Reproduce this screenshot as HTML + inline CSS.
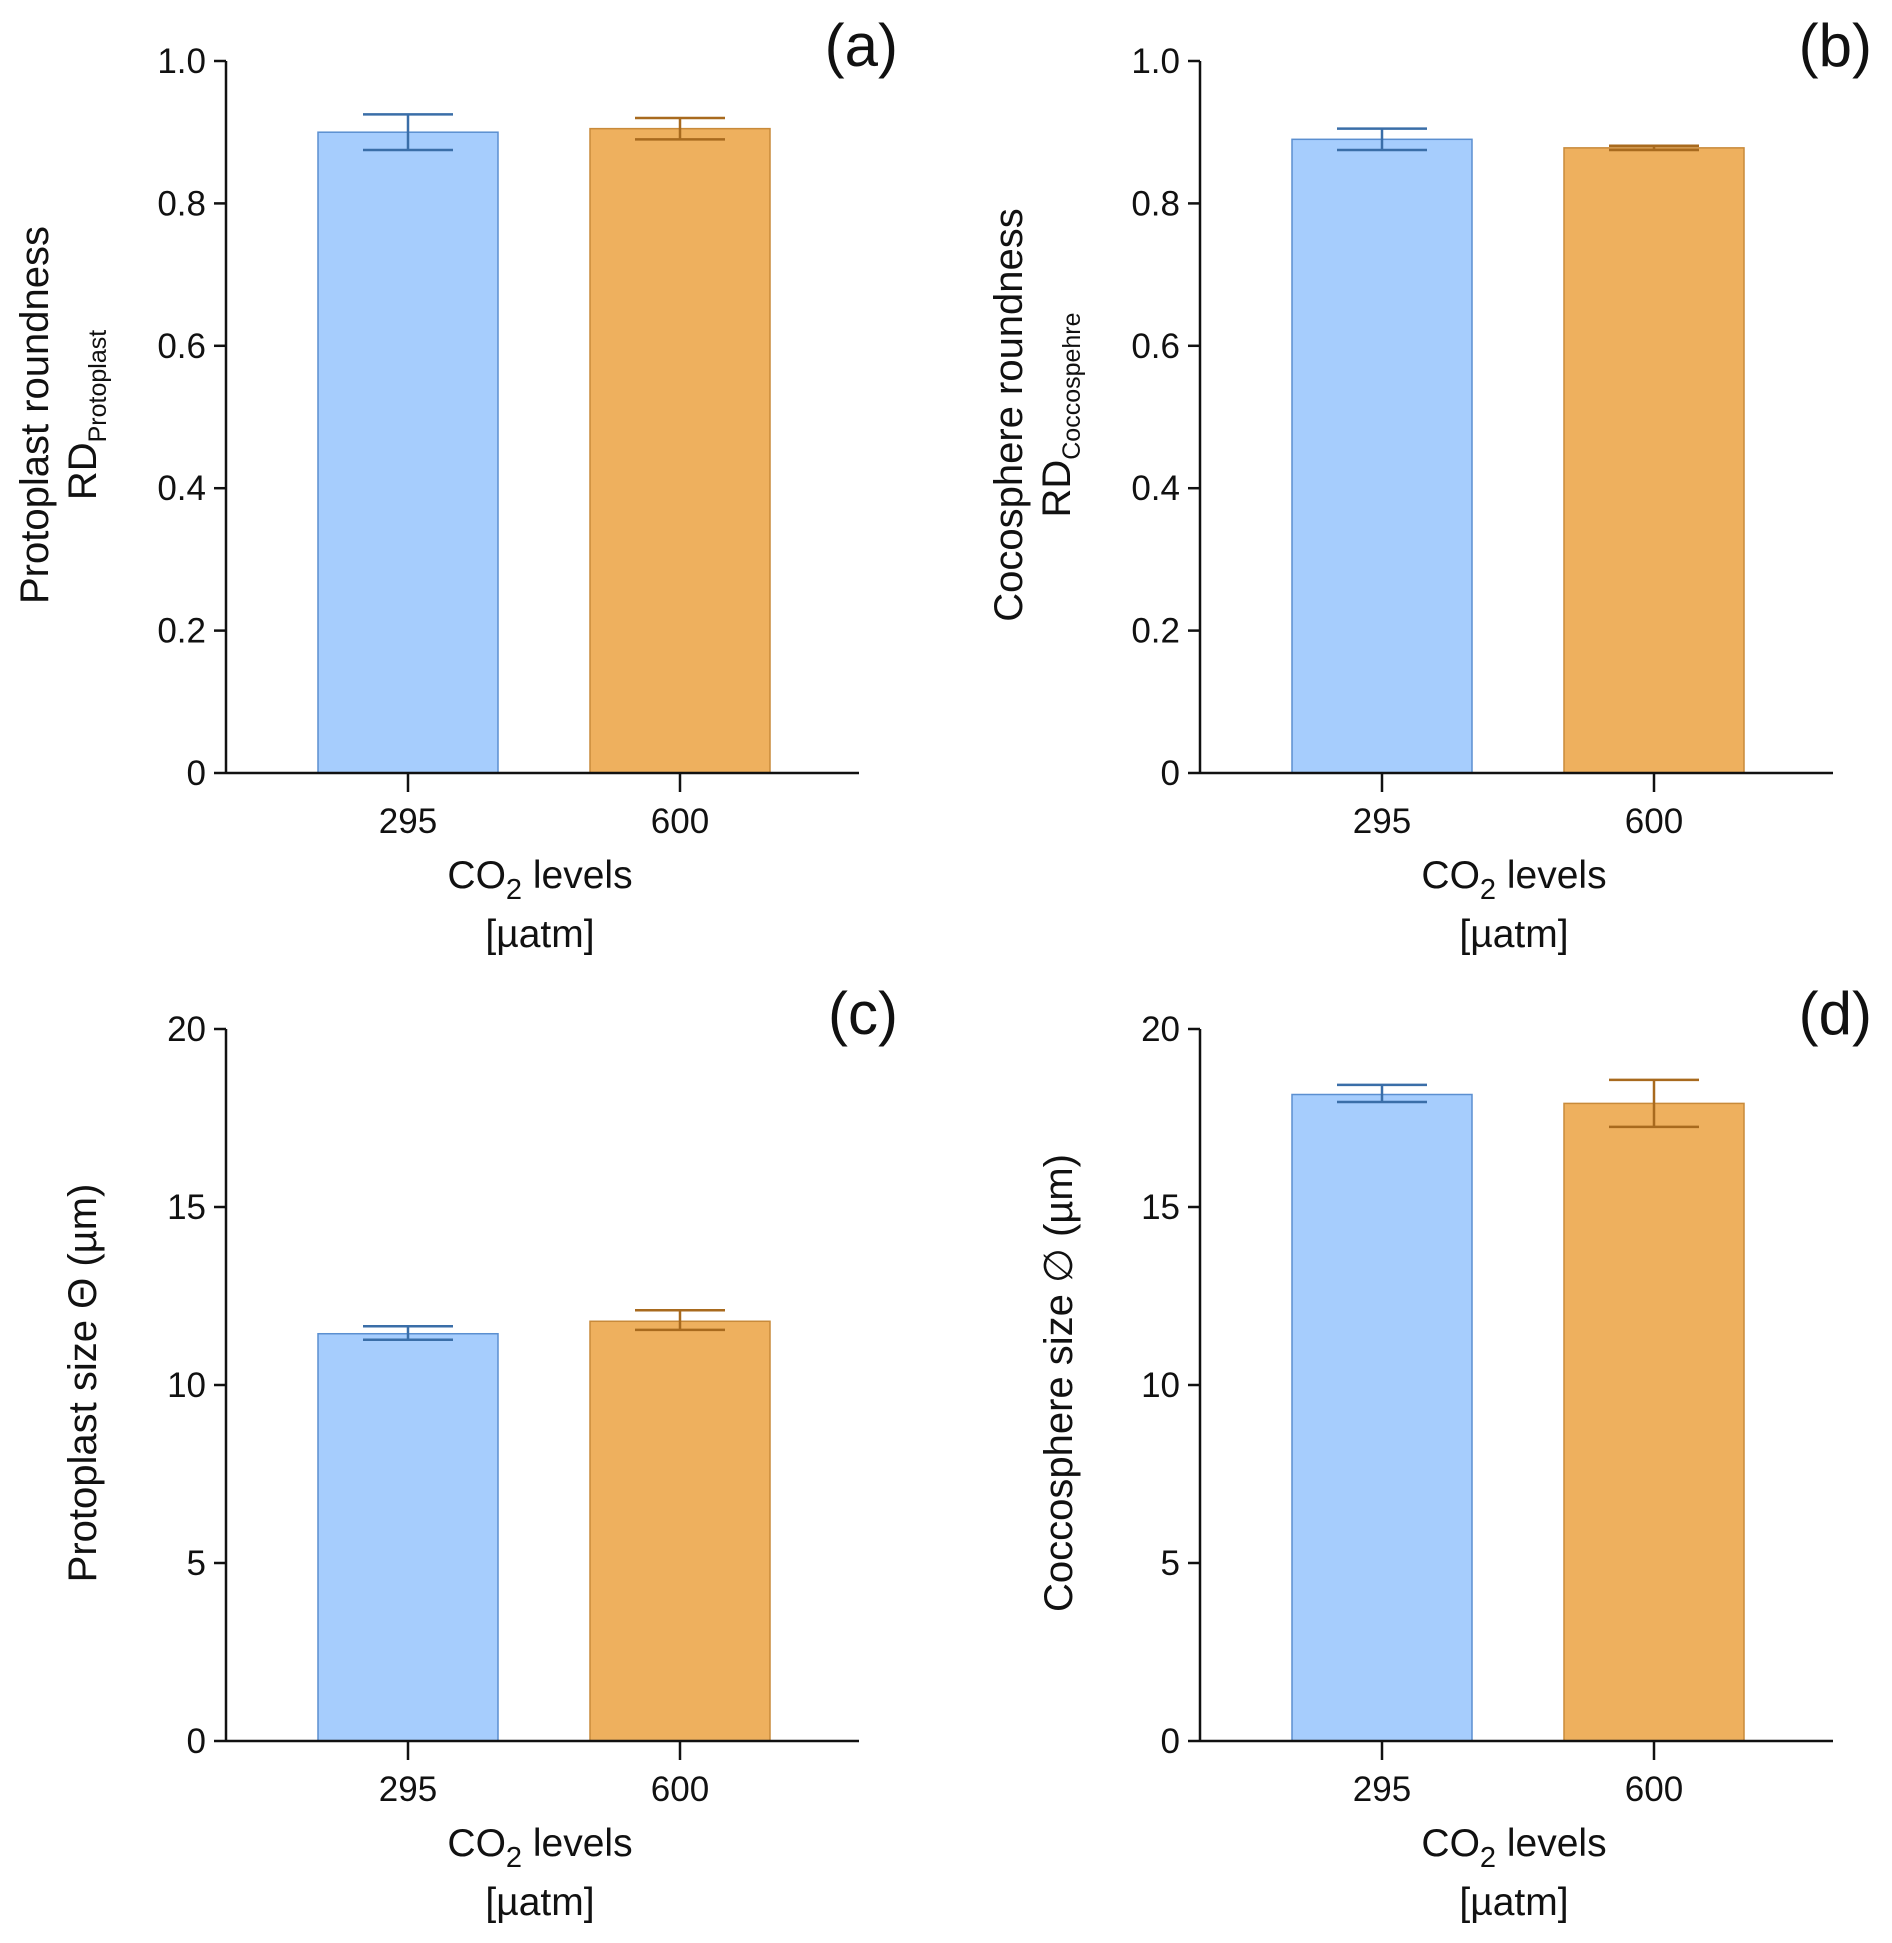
<!DOCTYPE html>
<html><head><meta charset="utf-8"><style>
html,body{margin:0;padding:0;background:#fff;}
svg{display:block;font-family:"Liberation Sans",Arial,sans-serif;}
</style></head><body>
<svg id="chart" width="1892" height="1943" viewBox="0 0 1892 1943" xmlns="http://www.w3.org/2000/svg"></svg>
<script>
const categories = ["295", "600"];
const panelLetters = ["(a)", "(b)", "(c)", "(d)"];
const meansA = [0.900, 0.905];
const lowA = [0.875, 0.890];
const highA = [0.925, 0.920];
const meansB = [0.890, 0.878];
const lowB = [0.875, 0.875];
const highB = [0.905, 0.881];
const meansC = [11.44, 11.79];
const lowC = [11.27, 11.55];
const highC = [11.65, 12.10];
const meansD = [18.16, 17.91];
const lowD = [17.95, 17.25];
const highD = [18.43, 18.57];
const ticksRound = ["0", "0.2", "0.4", "0.6", "0.8", "1.0"];
const ticksSize = ["0", "5", "10", "15", "20"];

const NS = "http://www.w3.org/2000/svg";
const svg = document.getElementById("chart");
function mk(tag, attrs, parent) {
  const e = document.createElementNS(NS, tag);
  for (const k in attrs) e.setAttribute(k, attrs[k]);
  (parent || svg).appendChild(e);
  return e;
}
const fills = ["#a6cdfd", "#eeb05e"];
const strokes = ["#5b8fd0", "#c88a3a"];
const errCol = ["#3a6ea8", "#a86a1e"];

function panel(ox, oy, idx, means, lows, highs, ticks, ymax, ylab1, ylab2, ylab2sub, ylabX1, ylabX2) {
  const g = mk("g", {});
  
  
  const x0 = ox + 226, x1 = ox + 859, y0 = oy + 773, yTop = oy + 61;
  const ys = v => y0 - (v / ymax) * (y0 - yTop);
  const xc = [ox + 408, ox + 680];
  const bw = 180;
  means.forEach((m, i) => {
    const r = mk("rect", {x: xc[i] - bw / 2, y: ys(m), width: bw, height: y0 - ys(m), fill: fills[i], stroke: strokes[i], "stroke-width": 1.5}, g);
    
    
    const eg = mk("g", {stroke: errCol[i], "stroke-width": 2.5, fill: "none"}, g);
    
    
    mk("line", {x1: xc[i], x2: xc[i], y1: ys(lows[i]), y2: ys(highs[i])}, eg);
    mk("line", {x1: xc[i] - 45, x2: xc[i] + 45, y1: ys(lows[i]), y2: ys(lows[i])}, eg);
    mk("line", {x1: xc[i] - 45, x2: xc[i] + 45, y1: ys(highs[i]), y2: ys(highs[i])}, eg);
  });
  const ax = mk("g", {stroke: "#111", "stroke-width": 2.5}, g);
  
  
  mk("line", {x1: x0, x2: x0, y1: yTop, y2: y0}, ax);
  mk("line", {x1: x0, x2: x1, y1: y0, y2: y0}, ax);
  ticks.forEach(t => {
    const y = ys(parseFloat(t));
    mk("line", {x1: x0 - 12, x2: x0, y1: y, y2: y}, ax);
    const tx = mk("text", {x: x0 - 20, y: y + 12, "text-anchor": "end", "font-size": 35, fill: "#111"}, g);
    tx.textContent = t;
    
    
  });
  categories.forEach((c, i) => {
    mk("line", {x1: xc[i], x2: xc[i], y1: y0, y2: y0 + 19}, ax);
    const tx = mk("text", {x: xc[i], y: y0 + 60, "text-anchor": "middle", "font-size": 35, fill: "#111"}, g);
    tx.textContent = c;
    
    
  });
  const xt = mk("text", {x: ox + 540, y: oy + 888, "text-anchor": "middle", "font-size": 39, fill: "#111"}, g);
  xt.innerHTML = 'CO<tspan font-size="29" dy="11">2</tspan><tspan dy="-11"> levels</tspan>';
  
  
  const xu = mk("text", {x: ox + 540, y: oy + 947, "text-anchor": "middle", "font-size": 39, fill: "#111"}, g);
  xu.textContent = "[µatm]";
  
  
  const cy = oy + 415;
  const yt = mk("text", {x: ylabX1, y: cy, "text-anchor": "middle", "font-size": 40, fill: "#111", transform: `rotate(-90 ${ylabX1} ${cy})`}, g);
  yt.textContent = ylab1;
  
  
  if (ylab2) {
    const y2 = mk("text", {x: ylabX2, y: cy, "text-anchor": "middle", "font-size": 40, fill: "#111", transform: `rotate(-90 ${ylabX2} ${cy})`}, g);
    y2.innerHTML = ylab2 + '<tspan font-size="25" dy="10">' + ylab2sub + '</tspan>';
    
    
  }
  const pl = mk("text", {x: ox + 898, y: oy + 66, "text-anchor": "end", "font-size": 60, fill: "#111"}, g);
  pl.textContent = panelLetters[idx];
  
  
}
panel(0, 0, 0, meansA, lowA, highA, ticksRound, 1.0, "Protoplast roundness", "RD", "Protoplast", 48, 96);
panel(974, 0, 1, meansB, lowB, highB, ticksRound, 1.0, "Cocosphere roundness", "RD", "Coccospehre", 1022, 1070);
panel(0, 968, 2, meansC, lowC, highC, ticksSize, 20, "Protoplast size Θ (µm)", null, null, 96, 0);
panel(974, 968, 3, meansD, lowD, highD, ticksSize, 20, "Coccosphere size ∅ (µm)", null, null, 1072, 0);
</script>
</body></html>
